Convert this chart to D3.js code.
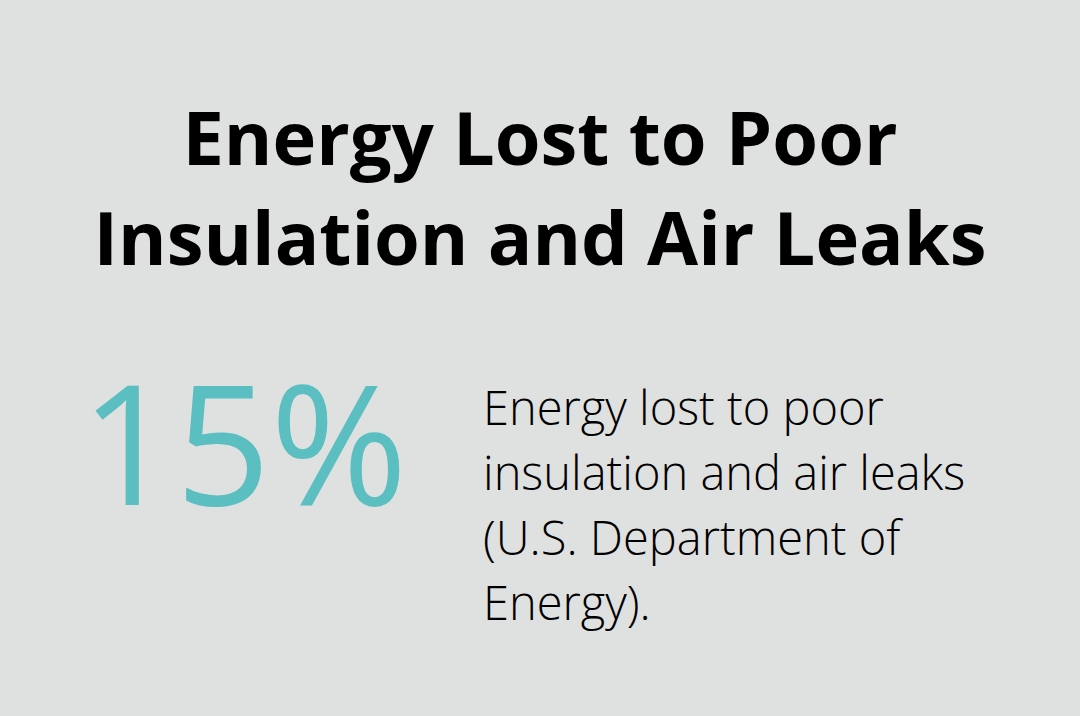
<!DOCTYPE html>
<html><head><meta charset="utf-8">
<script src="https://cdn.jsdelivr.net/npm/d3@7"></script>
<style>body{margin:0;background:#dfe1e0}</style></head>
<body><script>
const titleLines = ["Energy Lost to Poor", "Insulation and Air Leaks"];
const statValue = ["15%"];
const descLines = ["Energy lost to poor", "insulation and air leaks", "(U.S. Department of", "Energy)."];

const svg = d3.select("body").append("svg").attr("width",1080).attr("height",716);
svg.append("rect").attr("width",1080).attr("height",716).attr("fill","#dfe1e0");
const font = "'Open Sans', sans-serif";
const ty = d3.scalePoint().domain(titleLines).range([165,265]);
svg.selectAll("text.t").data(titleLines).join("text").attr("class","t")
  .attr("x",540).attr("y",d=>ty(d)).attr("text-anchor","middle")
  .attr("font-family",font).attr("font-weight",700).attr("font-size",74).attr("fill","#000").text(d=>d);
svg.selectAll("text.s").data(statValue).join("text").attr("class","s")
  .attr("x",244).attr("y",505).attr("text-anchor","middle")
  .attr("font-family",font).attr("font-weight",400).attr("font-size",166).attr("fill","#5bbfc1").text(d=>d);
const dy = d3.scalePoint().domain(descLines).range([425,620]);
svg.selectAll("text.d").data(descLines).join("text").attr("class","d")
  .attr("x",483).attr("y",d=>dy(d))
  .attr("font-family",font).attr("font-weight",300).attr("font-size",47).attr("fill","#000").text(d=>d);
</script></body></html>
